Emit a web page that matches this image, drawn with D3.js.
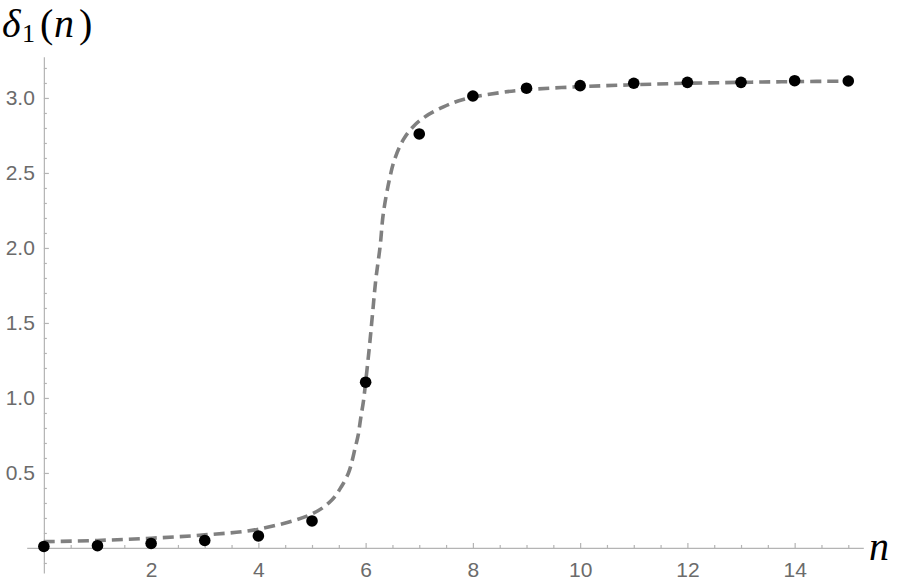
<!DOCTYPE html>
<html>
<head>
<meta charset="utf-8">
<script src="https://cdn.jsdelivr.net/npm/d3@7"></script>
<style>
  body { margin: 0; background: #fff; }
  .tick text { font-family: "Liberation Sans", Arial, sans-serif; font-size: 21px; fill: #6b6b6b; }
  .domain, .tick line { stroke: #b4b4b4; stroke-width: 1.2; }
</style>
</head>
<body>
<div id="canvas"></div>
<script>
// sample points (black dots)
const nValues = [0, 1, 2, 3, 4, 5, 6, 7, 8, 9, 10, 11, 12, 13, 14, 15];
const deltaValues = [0.01, 0.015, 0.03, 0.05, 0.08, 0.18, 1.105, 2.76, 3.013, 3.065, 3.082, 3.098, 3.104, 3.104, 3.115, 3.113];

// dashed fit curve
const fitN = [0, 1, 2, 3, 4, 5.02, 5.37, 5.55, 5.68, 5.74, 5.8, 5.86, 5.91, 5.96, 6.0, 6.07, 6.13, 6.19, 6.27, 6.33, 6.44, 6.54, 6.7, 6.89, 7.11, 7.45, 7.82, 8.5, 9, 10, 11, 12, 13, 14, 15];
const fitDelta = [0.042, 0.05, 0.065, 0.087, 0.125, 0.23, 0.32, 0.41, 0.5, 0.57, 0.66, 0.75, 0.87, 0.98, 1.105, 1.34, 1.565, 1.79, 2.01, 2.23, 2.45, 2.59, 2.72, 2.81, 2.875, 2.94, 2.99, 3.035, 3.055, 3.075, 3.088, 3.098, 3.104, 3.109, 3.112];

const xTicks = [2, 4, 6, 8, 10, 12, 14];
const yTicks = [0.5, 1.0, 1.5, 2.0, 2.5, 3.0];
const xMinor = d3.range(0.5, 15.01, 0.5).filter(v => v % 2 !== 0);
const yMinor = d3.range(-1, 33).map(v => v / 10).filter(v => v !== 0 && Math.round(v * 10) % 5 !== 0);

const width = 899;
const height = 583;

const svg = d3.select("#canvas").append("svg")
  .attr("width", width)
  .attr("height", height);

const x = d3.scaleLinear().domain([-0.32, 15.28]).range([26.7, 863.3]);
const y = d3.scaleLinear().domain([-0.167, 3.275]).range([573, 56.7]);

// x axis
svg.append("g")
  .attr("transform", `translate(0,${y(0)})`)
  .call(d3.axisBottom(x).tickValues(xMinor).tickSize(-3).tickFormat(""))
  .call(g => g.select(".domain").remove());
svg.append("g")
  .attr("transform", `translate(0,${y(0)})`)
  .call(d3.axisBottom(x).tickValues(xTicks).tickSize(-5).tickSizeOuter(0).tickPadding(14).tickFormat(d3.format("d")));

// y axis
svg.append("g")
  .attr("transform", `translate(${x(0)},0)`)
  .call(d3.axisLeft(y).tickValues(yMinor).tickSize(-3).tickFormat(""))
  .call(g => g.select(".domain").remove());
svg.append("g")
  .attr("transform", `translate(${x(0)},0)`)
  .call(d3.axisLeft(y).tickValues(yTicks).tickSize(-5).tickSizeOuter(0).tickPadding(9).tickFormat(d3.format(".1f")));

// dashed curve
const line = d3.line()
  .x((d, i) => x(fitN[i]))
  .y(d => y(d))
  .curve(d3.curveCatmullRom.alpha(0.5));

svg.append("path")
  .datum(fitDelta)
  .attr("d", line)
  .attr("fill", "none")
  .attr("stroke", "#808080")
  .attr("stroke-width", 3.6)
  .attr("stroke-dasharray", "11,6");

// dots
svg.selectAll("circle")
  .data(deltaValues)
  .enter().append("circle")
  .attr("cx", (d, i) => x(nValues[i]))
  .attr("cy", d => y(d))
  .attr("r", 5.8)
  .attr("fill", "#000");

// axis labels
const ylab = svg.append("text")
  .attr("font-family", "'Liberation Serif', 'Times New Roman', serif")
  .attr("font-size", 40)
  .attr("y", 37)
  .attr("fill", "#000");
ylab.append("tspan").attr("x", 2).attr("font-style", "italic").text("δ");
ylab.append("tspan").attr("x", 22).attr("y", 42).attr("font-size", 26).text("1");
ylab.append("tspan").attr("x", 40).attr("y", 37).text("(");
ylab.append("tspan").attr("x", 54).attr("font-style", "italic").text("n");
ylab.append("tspan").attr("x", 79).text(")");

svg.append("text")
  .attr("x", 869)
  .attr("y", 560)
  .attr("font-family", "'Liberation Serif', 'Times New Roman', serif")
  .attr("font-style", "italic")
  .attr("font-size", 40)
  .attr("fill", "#000")
  .text("n");
</script>
</body>
</html>
